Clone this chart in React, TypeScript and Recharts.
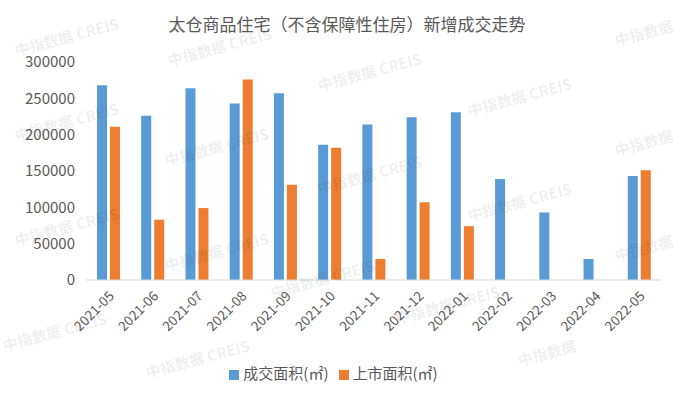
import React from "react";
import { BarChart, Bar, XAxis, YAxis, Legend } from "recharts";

const months = [
  "2021-05", "2021-06", "2021-07", "2021-08", "2021-09", "2021-10", "2021-11",
  "2021-12", "2022-01", "2022-02", "2022-03", "2022-04", "2022-05",
];
const dealArea = [268000, 226000, 264000, 243000, 257000, 186000, 214000, 224000, 231000, 139000, 93000, 29000, 143000];
const supplyArea = [211000, 83000, 99000, 276000, 131000, 182000, 29000, 107000, 74000, null, null, null, 151000];
const yTicks = [0, 50000, 100000, 150000, 200000, 250000, 300000];

const data = months.map((m, i) => ({ month: m, deal: dealArea[i], supply: supplyArea[i] }));

const marks: [number, number, string][] = [
  [12, 40, "中指数据 CREIS"], [12, 125, "中指数据 CREIS"], [12, 230, "中指数据 CREIS"], [0, 335, "中指数据 CREIS"],
  [165, 50, "中指数据 CREIS"], [162, 150, "中指数据 CREIS"], [162, 255, "中指数据 CREIS"], [143, 362, "中指数据 CREIS"],
  [315, 75, "中指数据 CREIS"], [315, 178, "中指数据 CREIS"], [268, 282, "中指数据 CREIS"],
  [465, 100, "中指数据 CREIS"], [465, 205, "中指数据 CREIS"], [393, 308, "中指数据 CREIS"],
  [612, 30, "中指数据"], [612, 140, "中指数据"], [612, 245, "中指数据"], [515, 350, "中指数据"],
];

const XTick = (props: any) => {
  const { x, y, payload } = props;
  return (
    <g transform={`translate(${x + 4},${y + 6})`}>
      <text textAnchor="end" transform="rotate(-45)" fill="#595959" fontSize={13.5} dy={4}>
        {payload.value}
      </text>
    </g>
  );
};

export default function App() {
  return (
    <div style={{ position: "absolute", left: 0, top: 0, width: 694, height: 396, background: "#fff", fontFamily: "'Noto Sans CJK SC', 'Noto Sans', sans-serif", overflow: "hidden" }}>
      <div style={{ position: "absolute", top: 11, left: 0, width: 694, textAlign: "center", fontSize: 17, color: "#595959" }}>
        太仓商品住宅（不含保障性住房）新增成交走势
      </div>
      <BarChart width={694} height={396} data={data} margin={{ top: 62, right: 33, left: 16, bottom: 13 }} barSize={10} barGap={3}>
        <XAxis dataKey="month" tick={<XTick />} tickLine={false} axisLine={{ stroke: "#d9d9d9" }} interval={0} height={82} />
        <YAxis
          domain={[0, 300000]}
          ticks={yTicks}
          width={70}
          axisLine={false}
          tickLine={false}
          tickMargin={5}
          tick={{ fill: "#595959", fontSize: 15 }}
        />
        <Legend
          verticalAlign="bottom"
          iconType="square"
          iconSize={10}
          itemSorter="dataKey"
          wrapperStyle={{ fontSize: 15, color: "#595959" }}
          formatter={(v) => <span style={{ color: "#595959" }}>{v}</span>}
        />
        <Bar dataKey="deal" name="成交面积(㎡)" fill="#5B9BD5" isAnimationActive={false} />
        <Bar dataKey="supply" name="上市面积(㎡)" fill="#ED7D31" isAnimationActive={false} />
      </BarChart>
      {marks.map(([x, y, t], i) => (
        <div key={i} style={{ position: "absolute", left: x, top: y, fontSize: 15, fontWeight: 700, color: "rgba(0,0,0,0.08)", transform: "rotate(-15deg)", transformOrigin: "left top", whiteSpace: "nowrap", pointerEvents: "none" }}>
          {t}
        </div>
      ))}
    </div>
  );
}
